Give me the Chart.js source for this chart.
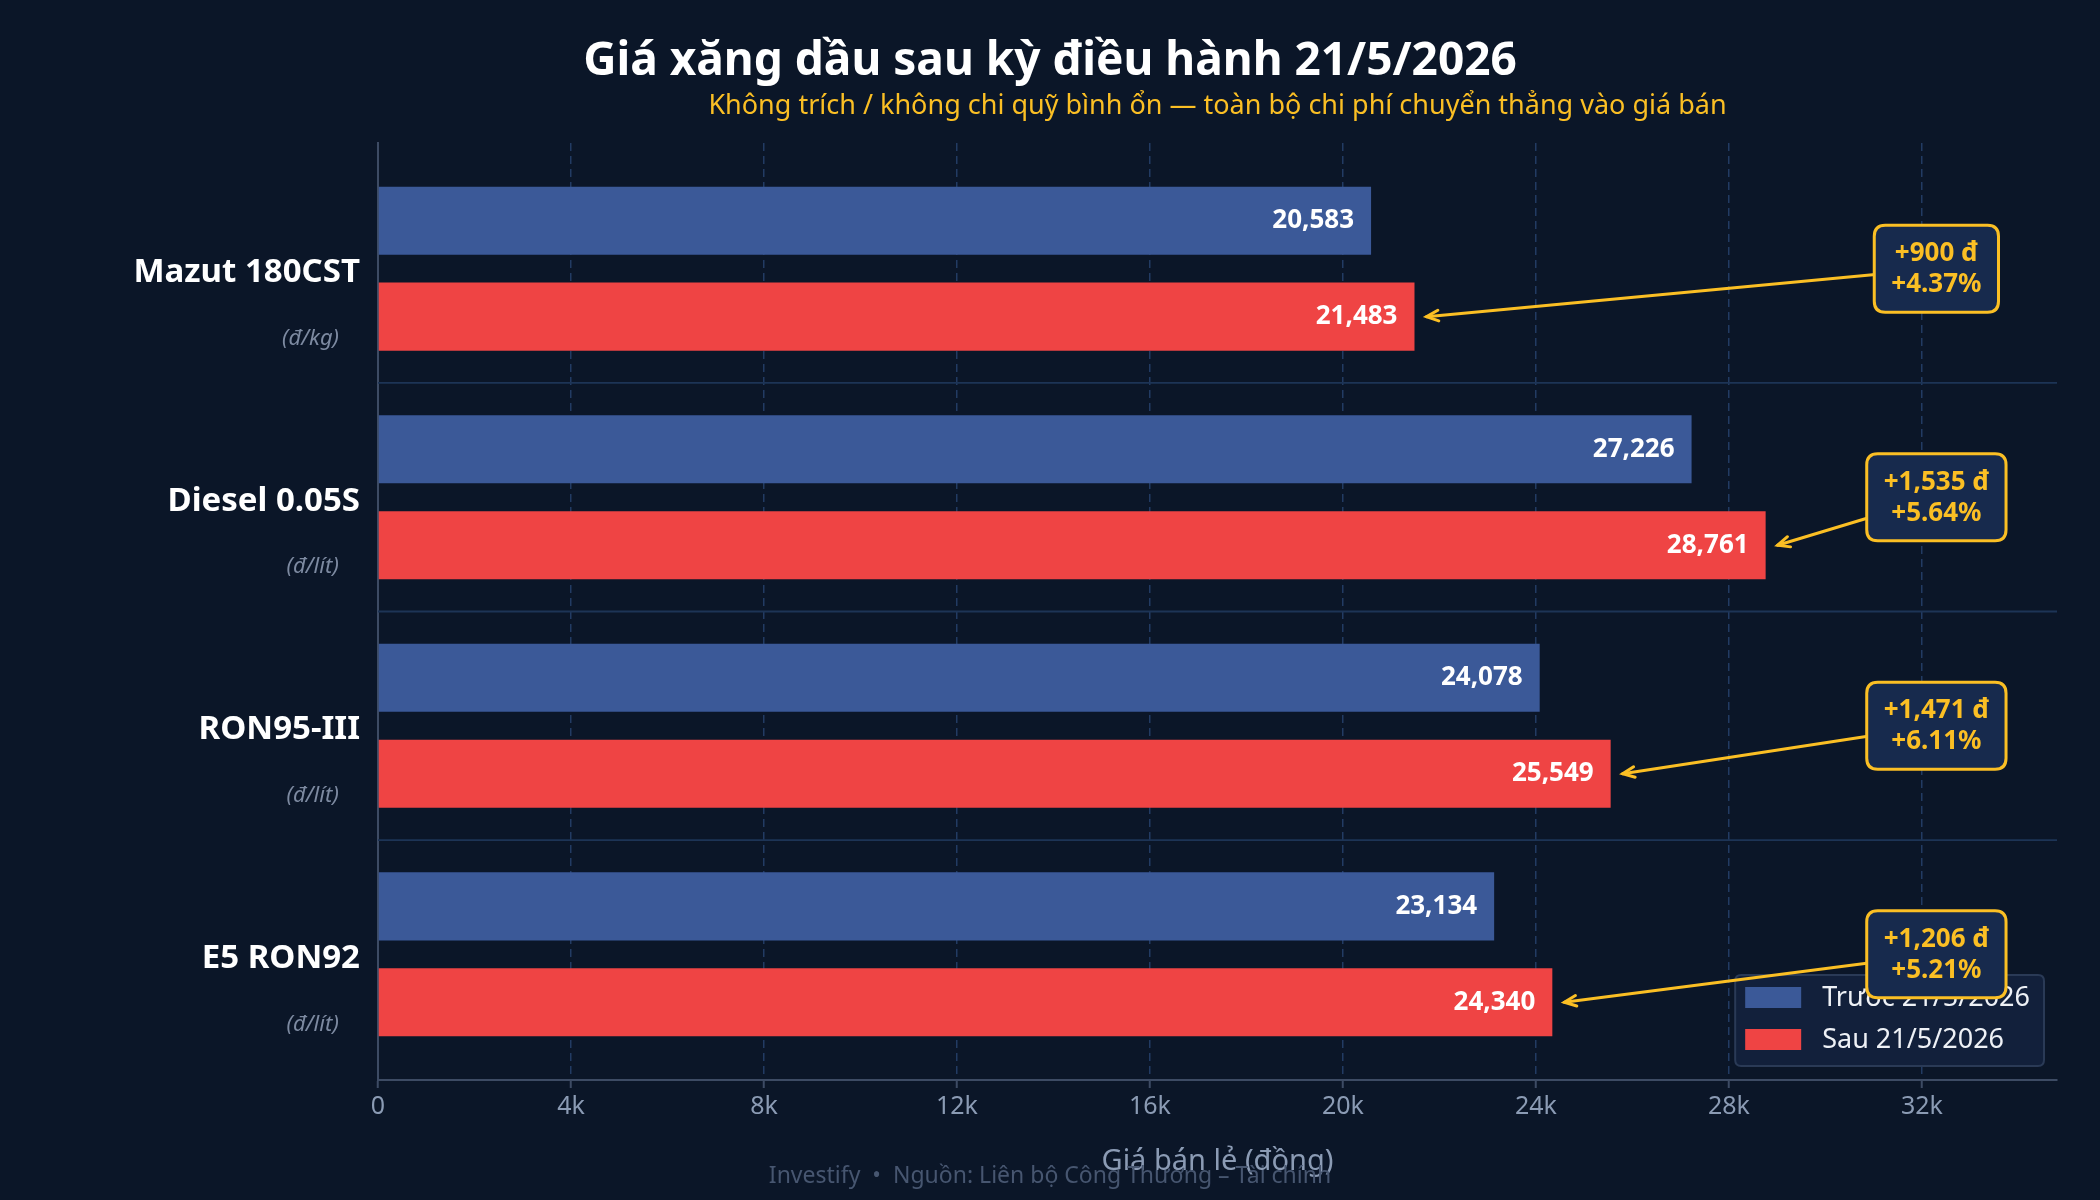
<!DOCTYPE html>
<html>
<head>
<meta charset="utf-8">
<script src="https://cdn.jsdelivr.net/npm/chart.js@4.4.1/dist/chart.umd.min.js"></script>
<style>
  html, body { margin: 0; padding: 0; background: #0b1628; }
  #chart { display: block; }
</style>
</head>
<body>
<canvas id="chart" width="2100" height="1200"></canvas>
<script>
var products = ['Mazut 180CST', 'Diesel 0.05S', 'RON95-III', 'E5 RON92'];
var units = ['(đ/kg)', '(đ/lít)', '(đ/lít)', '(đ/lít)'];
var priceBefore = [20583, 27226, 24078, 23134];
var priceAfter = [21483, 28761, 25549, 24340];
var seriesLabels = ['Trước 21/5/2026', 'Sau 21/5/2026'];
var xTickValues = [0, 4000, 8000, 12000, 16000, 20000, 24000, 28000, 32000];
var xTickLabels = ['0', '4k', '8k', '12k', '16k', '20k', '24k', '28k', '32k'];

var FONT = "'Noto Sans', 'Open Sans', 'DejaVu Sans', sans-serif";
var GOLD = '#fbbf24';
var BG = '#0b1628';
var MUTED = '#8b9bb4';

Chart.defaults.font.family = FONT;

var toPoints = (vals) => vals.map((v, i) => ({ x: v, y: i }));
var fmt = (v) => v.toLocaleString('en-US');

var roundRect = (ctx, x, y, w, h, r) => {
    ctx.beginPath();
    ctx.moveTo(x + r, y);
    ctx.lineTo(x + w - r, y);
    ctx.quadraticCurveTo(x + w, y, x + w, y + r);
    ctx.lineTo(x + w, y + h - r);
    ctx.quadraticCurveTo(x + w, y + h, x + w - r, y + h);
    ctx.lineTo(x + r, y + h);
    ctx.quadraticCurveTo(x, y + h, x, y + h - r);
    ctx.lineTo(x, y + r);
    ctx.quadraticCurveTo(x, y, x + r, y);
    ctx.closePath();
};

var decor = {
    id: 'decor',
    beforeDraw: (chart) => {
        var ctx = chart.ctx;
        ctx.save();
        ctx.fillStyle = BG;
        ctx.fillRect(0, 0, chart.width, chart.height);
        ctx.restore();
    },
    beforeDatasetsDraw: (chart) => {
        // thin separators between the fuel groups
        var ctx = chart.ctx, area = chart.chartArea, ys = chart.scales.y;
        ctx.save();
        ctx.strokeStyle = '#1d3456';
        ctx.lineWidth = 1.8;
        for (var i = 0; i < products.length - 1; i++) {
            var y = ys.getPixelForValue(i + 0.5);
            ctx.beginPath();
            ctx.moveTo(area.left, y);
            ctx.lineTo(area.right, y);
            ctx.stroke();
        }
        ctx.restore();
    },
    afterDatasetsDraw: (chart) => {
        var ctx = chart.ctx, area = chart.chartArea;
        var xs = chart.scales.x, ys = chart.scales.y;
        ctx.save();

        // values inside the bars
        ctx.font = 'bold 26px ' + FONT;
        ctx.fillStyle = '#ffffff';
        ctx.textAlign = 'right';
        ctx.textBaseline = 'middle';
        chart.data.datasets.forEach((ds, d) => {
            chart.getDatasetMeta(d).data.forEach((bar, i) => {
                ctx.fillText(fmt(ds.data[i].x), bar.x - 17, bar.y);
            });
        });

        // unit under each product name
        ctx.font = 'italic 22px ' + FONT;
        ctx.fillStyle = '#7d8aa1';
        units.forEach((u, i) => {
            ctx.fillText(u, area.left - 39, ys.getPixelForValue(i) + 70);
        });

        // legend, bottom right inside the plot
        ctx.font = '27px ' + FONT;
        var textW = Math.max.apply(null, seriesLabels.map((t) => ctx.measureText(t).width));
        var lw = 10 + 56 + 21 + textW + 14;
        var lh = 91;
        var lx = area.right - 13 - lw;
        var ly = area.bottom - 14 - lh;
        roundRect(ctx, lx, ly, lw, lh, 6);
        ctx.fillStyle = '#12203b';
        ctx.fill();
        ctx.strokeStyle = '#2a3a56';
        ctx.lineWidth = 2;
        ctx.stroke();
        chart.data.datasets.forEach((ds, d) => {
            var cy = ly + 22.5 + d * 42;
            ctx.fillStyle = ds.backgroundColor;
            ctx.fillRect(lx + 10, cy - 10.5, 56, 21);
            ctx.fillStyle = '#eef1f6';
            ctx.textAlign = 'left';
            ctx.fillText(ds.label, lx + 87, cy + 1);
        });

        // change callouts with arrows to the new price
        var after = chart.getDatasetMeta(1).data;
        after.forEach((bar, i) => {
            var diff = priceAfter[i] - priceBefore[i];
            var pct = diff / priceBefore[i] * 100;
            var lines = ['+' + fmt(diff) + ' đ', '+' + pct.toFixed(2) + '%'];
            var cx = xs.getPixelForValue(32300);
            var cy = ys.getPixelForValue(i);
            var tx = bar.x + 12, ty = bar.y;

            ctx.strokeStyle = GOLD;
            ctx.lineWidth = 3;
            ctx.lineCap = 'round';
            ctx.beginPath();
            ctx.moveTo(cx, cy);
            ctx.lineTo(tx, ty);
            ctx.stroke();
            var ang = Math.atan2(cy - ty, cx - tx);
            ctx.beginPath();
            ctx.moveTo(tx + 13 * Math.cos(ang + 0.42), ty + 13 * Math.sin(ang + 0.42));
            ctx.lineTo(tx, ty);
            ctx.lineTo(tx + 13 * Math.cos(ang - 0.42), ty + 13 * Math.sin(ang - 0.42));
            ctx.stroke();

            ctx.font = 'bold 26px ' + FONT;
            var bw = Math.max(ctx.measureText(lines[0]).width, ctx.measureText(lines[1]).width) + 34;
            var bh = 87;
            roundRect(ctx, cx - bw / 2, cy - bh / 2, bw, bh, 11);
            ctx.fillStyle = '#172a4d';
            ctx.fill();
            ctx.lineWidth = 3;
            ctx.stroke();
            ctx.fillStyle = GOLD;
            ctx.textAlign = 'center';
            ctx.fillText(lines[0], cx, cy - 15);
            ctx.fillText(lines[1], cx, cy + 16);
        });
        ctx.restore();
    },
    afterDraw: (chart) => {
        var ctx = chart.ctx, area = chart.chartArea;
        ctx.save();
        ctx.textAlign = 'center';
        ctx.textBaseline = 'alphabetic';
        ctx.fillStyle = '#ffffff';
        ctx.font = 'bold 46px ' + FONT;
        ctx.fillText('Giá xăng dầu sau kỳ điều hành 21/5/2026', chart.width / 2, 75);
        ctx.fillStyle = GOLD;
        ctx.font = '27px ' + FONT;
        ctx.fillText('Không trích / không chi quỹ bình ổn — toàn bộ chi phí chuyển thẳng vào giá bán',
            (area.left + area.right) / 2, 114);
        ctx.fillStyle = '#475670';
        ctx.font = '23px ' + FONT;
        ctx.textBaseline = 'middle';
        ctx.fillText('Investify  •  Nguồn: Liên bộ Công Thương – Tài chính', chart.width / 2, 1176);
        ctx.restore();
    }
};

new Chart(document.getElementById('chart'), {
    type: 'bar',
    data: {
        datasets: [{
            label: seriesLabels[0],
            data: toPoints(priceBefore),
            backgroundColor: '#3b5998',
            categoryPercentage: 0.84,
            barPercentage: 0.71
        }, {
            label: seriesLabels[1],
            data: toPoints(priceAfter),
            backgroundColor: '#ef4444',
            categoryPercentage: 0.84,
            barPercentage: 0.71
        }]
    },
    options: {
        indexAxis: 'y',
        responsive: false,
        animation: false,
        devicePixelRatio: 1,
        layout: {
            padding: { top: 143, right: 43, left: 0, bottom: 0 }
        },
        plugins: {
            legend: { display: false },
            title: { display: false },
            tooltip: { enabled: false }
        },
        scales: {
            x: {
                type: 'linear',
                position: 'bottom',
                min: 0,
                max: 34800,
                afterBuildTicks: (scale) => {
                    scale.ticks = xTickValues.map((v) => ({ value: v }));
                },
                ticks: {
                    autoSkip: false,
                    color: MUTED,
                    padding: 4,
                    font: { size: 25 },
                    callback: (value) => xTickLabels[xTickValues.indexOf(value)]
                },
                grid: {
                    color: '#223b63',
                    lineWidth: 1.5,
                    drawTicks: true,
                    tickLength: 8,
                    tickColor: '#3d4b64',
                    tickWidth: 2
                },
                border: { display: true, color: '#3d4b64', width: 2, dash: [8, 5] },
                title: {
                    display: true,
                    text: 'Giá bán lẻ (đồng)',
                    color: MUTED,
                    font: { size: 29 },
                    padding: { top: 0, bottom: 21 }
                },
                afterFit: (scale) => { scale.height = 120; }
            },
            y: {
                type: 'linear',
                min: -0.55,
                max: 3.55,
                reverse: true,
                offset: false,
                afterBuildTicks: (scale) => {
                    scale.ticks = products.map((p, i) => ({ value: i }));
                },
                ticks: {
                    autoSkip: false,
                    color: '#ffffff',
                    padding: 18,
                    labelOffset: 4,
                    font: { size: 33, weight: 'bold' },
                    callback: (value) => products[value]
                },
                grid: { display: false, drawTicks: false, offset: false },
                border: { display: true, color: '#3d4b64', width: 2 },
                afterFit: (scale) => { scale.width = 378; }
            }
        }
    },
    plugins: [decor]
});
</script>
</body>
</html>
